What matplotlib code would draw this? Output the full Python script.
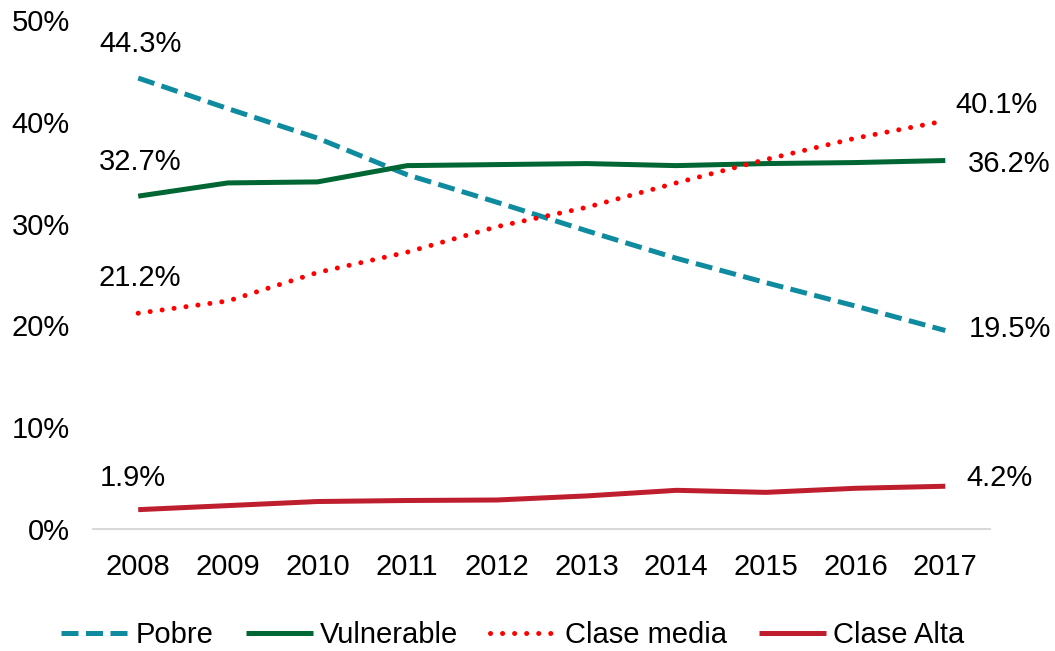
import matplotlib.pyplot as plt
import matplotlib as mpl

mpl.rcParams.update({
    "font.family": ["Liberation Sans", "DejaVu Sans"],
    "font.size": 21,
})

years = ["2008", "2009", "2010", "2011", "2012", "2013", "2014", "2015", "2016", "2017"]
pobre = [44.3, 41.3, 38.4, 34.8, 32.1, 29.3, 26.6, 24.2, 21.9, 19.5]
vulnerable = [32.7, 34.0, 34.1, 35.7, 35.8, 35.9, 35.7, 35.9, 36.0, 36.2]
clase_media = [21.2, 22.4, 25.2, 27.2, 29.7, 31.6, 34.0, 36.3, 38.4, 40.1]
clase_alta = [1.9, 2.3, 2.7, 2.8, 2.85, 3.25, 3.8, 3.6, 4.0, 4.2]
yticks = [0, 10, 20, 30, 40, 50]

series = [
    ("Pobre", pobre, "#0F8BA0", (0, (3.4, 1.5)), "butt"),
    ("Vulnerable", vulnerable, "#006633", "-", "butt"),
    ("Clase media", clase_media, "#FF0000", (0, (0.01, 2.4)), "round"),
    ("Clase Alta", clase_alta, "#BE1E2D", "-", "butt"),
]

fig = plt.figure(figsize=(10.55, 6.51), dpi=100)
ax = fig.add_axes([0.0885, 0.1874, 0.850, 0.7818])
x = list(range(len(years)))

for name, vals, color, ls, cap in series:
    v = [a / 100 for a in vals]
    ax.plot(x, v, color=color, linewidth=3.6, linestyle=ls,
            dash_capstyle=cap, solid_capstyle="butt", label=name)

# data labels at first and last year
first_offsets = [(2, 34), (2, 34), (2, 35), (-5, 32)]
last_offsets = [(23, 2), (23, -3), (10, 16), (21, 8)]
for (name, vals, *_), fo, lo in zip(series, first_offsets, last_offsets):
    ax.annotate(f"{vals[0]:.1f}%", (x[0], vals[0] / 100), xytext=fo,
                textcoords="offset pixels", ha="center", va="center")
    ax.annotate(f"{vals[-1]:.1f}%", (x[-1], vals[-1] / 100), xytext=lo,
                textcoords="offset pixels", ha="left", va="center")

ax.set_xlim(-0.5, len(years) - 0.5)
ax.set_ylim(0, 0.5)
ax.set_xticks(x)
ax.set_xticklabels(years)
ax.set_yticks([t / 100 for t in yticks])
ax.set_yticklabels([f"{t}%" for t in yticks])
ax.tick_params(axis="both", length=0)
ax.tick_params(axis="y", pad=17)
ax.tick_params(axis="x", pad=17.5)
for s in ["top", "right", "left"]:
    ax.spines[s].set_visible(False)
ax.spines["bottom"].set_color("#D9D9D9")
ax.spines["bottom"].set_linewidth(1.5)
ax.patch.set_alpha(0)

fig.legend(loc="center", bbox_to_anchor=(0.486, 0.025), ncol=4, frameon=False,
           handlelength=2.3, handletextpad=0.25, columnspacing=1.1)

fig.savefig("out.png", dpi=100)
